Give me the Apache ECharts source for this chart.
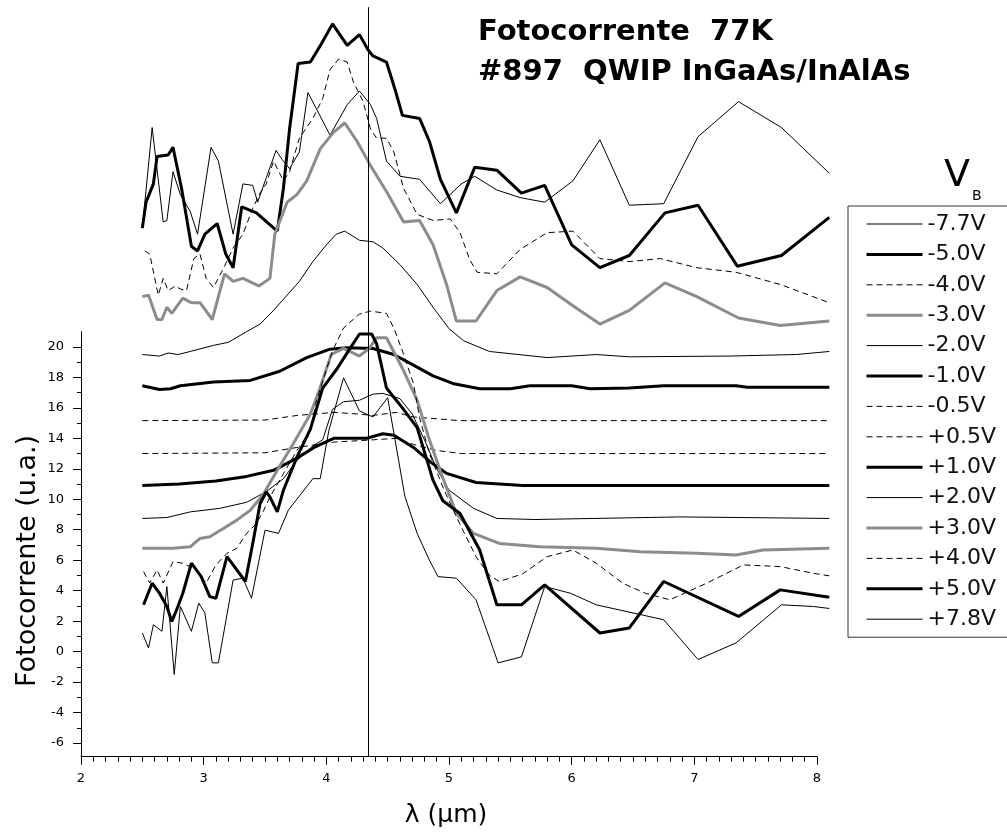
<!DOCTYPE html>
<html>
<head>
<meta charset="utf-8">
<script src="https://cdn.jsdelivr.net/npm/echarts@6/dist/echarts.min.js"></script>
<style>
  html, body { margin: 0; padding: 0; background: #fff; }
  #chart { width: 1007px; height: 834px; }
</style>
</head>
<body>
<div id="chart"></div>
<script>
// [lambda (um), photocurrent (a.u.)]
const neg77 = [[2.5,27.8],[2.58,34.4],[2.67,28.2],[2.7,28.3],[2.75,31.5],[2.81,30.0],[2.89,28.9],[2.95,27.4],[3.06,33.1],[3.12,32.2],[3.24,27.4],[3.32,30.7],[3.4,30.6],[3.44,29.5],[3.51,31.1],[3.59,32.9],[3.64,32.3],[3.7,31.7],[3.78,32.8],[3.85,36.7],[4.03,33.9],[4.17,35.9],[4.27,36.8],[4.36,35.9],[4.41,35.0],[4.49,32.2],[4.6,31.2],[4.76,31.0],[4.93,29.4],[5.1,30.7],[5.21,31.2],[5.39,30.3],[5.58,29.8],[5.78,29.5],[6.01,30.9],[6.23,33.6],[6.47,29.3],[6.75,29.4],[7.03,33.8],[7.36,36.1],[7.71,34.4],[8.1,31.4]];
const neg50 = [[2.5,27.8],[2.53,29.5],[2.59,30.7],[2.62,32.5],[2.71,32.6],[2.75,33.1],[2.82,30.4],[2.9,26.6],[2.95,26.3],[3.01,27.4],[3.11,28.1],[3.18,26.1],[3.24,25.2],[3.31,29.2],[3.43,28.8],[3.6,27.6],[3.65,30.4],[3.7,34.3],[3.77,38.6],[3.87,38.7],[3.96,39.9],[4.05,41.2],[4.17,39.8],[4.27,40.5],[4.34,39.5],[4.38,39.1],[4.49,38.7],[4.56,36.9],[4.62,35.2],[4.76,35.0],[4.84,33.5],[4.93,31.0],[5.06,28.8],[5.21,31.8],[5.39,31.6],[5.59,30.1],[5.78,30.6],[6.0,26.7],[6.23,25.2],[6.47,26.0],[6.76,28.8],[7.03,29.3],[7.35,25.3],[7.71,26.0],[8.1,28.5]];
const neg40 = [[2.52,26.3],[2.56,26.1],[2.63,23.4],[2.67,24.5],[2.71,23.7],[2.77,24.0],[2.81,23.8],[2.86,23.7],[2.92,25.8],[2.97,26.1],[3.02,24.5],[3.08,23.9],[3.17,25.3],[3.24,26.5],[3.32,27.4],[3.4,29.1],[3.46,30.1],[3.51,30.7],[3.57,32.2],[3.65,30.9],[3.7,31.5],[3.78,33.7],[3.89,35.0],[3.97,36.3],[4.03,38.2],[4.1,38.9],[4.17,38.7],[4.22,37.4],[4.3,36.1],[4.36,34.3],[4.41,33.7],[4.49,33.7],[4.55,32.8],[4.63,30.4],[4.74,28.7],[4.87,28.3],[5.01,28.4],[5.09,27.5],[5.17,25.7],[5.23,24.9],[5.39,24.8],[5.58,26.4],[5.8,27.5],[6.01,27.6],[6.23,25.8],[6.47,25.6],[6.72,25.8],[7.02,25.2],[7.34,24.9],[7.7,24.1],[8.1,22.9]];
const neg30 = [[2.5,23.3],[2.55,23.4],[2.62,21.8],[2.66,21.8],[2.7,22.6],[2.74,22.2],[2.83,23.2],[2.9,22.9],[2.97,22.9],[3.07,21.8],[3.17,24.8],[3.24,24.3],[3.32,24.5],[3.45,24.0],[3.54,24.5],[3.58,27.4],[3.68,29.5],[3.76,30.0],[3.84,30.9],[3.95,33.0],[4.06,34.1],[4.15,34.7],[4.25,33.5],[4.36,31.9],[4.49,30.2],[4.63,28.2],[4.76,28.3],[4.87,26.7],[4.98,24.1],[5.06,21.7],[5.22,21.7],[5.39,23.7],[5.58,24.6],[5.8,23.9],[6.01,22.7],[6.23,21.5],[6.47,22.4],[6.76,24.2],[7.02,23.3],[7.36,21.9],[7.7,21.4],[8.1,21.7]];
const neg20 = [[2.5,19.5],[2.64,19.4],[2.71,19.6],[2.79,19.5],[2.89,19.7],[3.08,20.1],[3.2,20.3],[3.35,21.0],[3.46,21.5],[3.57,22.4],[3.68,23.4],[3.78,24.3],[3.89,25.6],[4.0,26.7],[4.08,27.4],[4.15,27.6],[4.27,27.0],[4.38,26.9],[4.46,26.5],[4.6,25.4],[4.74,24.1],[4.87,22.6],[5.0,21.2],[5.12,20.4],[5.33,19.7],[5.8,19.3],[6.2,19.5],[6.47,19.35],[7.29,19.4],[7.83,19.5],[8.1,19.7]];
const neg10 = [[2.5,17.45],[2.64,17.2],[2.73,17.25],[2.81,17.45],[3.08,17.7],[3.38,17.8],[3.62,18.4],[3.84,19.3],[4.03,19.85],[4.17,19.95],[4.38,19.9],[4.55,19.5],[4.71,18.8],[4.87,18.1],[5.03,17.6],[5.25,17.25],[5.5,17.25],[5.66,17.45],[6.0,17.45],[6.15,17.25],[6.47,17.3],[6.75,17.45],[7.34,17.45],[7.43,17.35],[8.1,17.35]];
const neg05 = [[2.5,15.16],[3.5,15.2],[3.76,15.5],[4.06,15.7],[4.25,15.6],[4.38,15.5],[4.57,15.7],[4.71,15.4],[5.09,15.16],[8.1,15.16]];
const pos05 = [[2.5,13.0],[3.5,13.05],[3.76,13.4],[4.06,13.75],[4.38,13.9],[4.57,14.0],[4.71,13.6],[4.9,13.2],[5.1,13.0],[8.1,13.0]];
const pos10 = [[2.5,10.9],[2.8,11.0],[3.1,11.2],[3.35,11.5],[3.57,11.9],[3.76,12.7],[3.9,13.4],[4.06,14.0],[4.33,14.0],[4.46,14.3],[4.55,14.2],[4.71,13.4],[4.84,12.5],[4.98,11.7],[5.22,11.1],[5.41,11.0],[5.6,10.9],[6.5,10.9],[7.5,10.9],[8.1,10.9]];
const pos20 = [[2.5,8.74],[2.7,8.8],[2.89,9.17],[3.13,9.4],[3.35,9.8],[3.51,10.5],[3.65,11.35],[3.76,12.55],[3.89,13.5],[3.97,13.9],[4.05,15.9],[4.14,16.4],[4.27,16.5],[4.38,16.9],[4.46,16.95],[4.6,16.6],[4.7,15.6],[4.8,13.9],[4.9,12.0],[5.0,10.6],[5.2,9.4],[5.39,8.74],[5.7,8.67],[6.88,8.84],[8.1,8.74]];
const pos30 = [[2.5,6.78],[2.75,6.78],[2.89,6.88],[2.97,7.43],[3.05,7.54],[3.16,8.08],[3.27,8.63],[3.38,9.28],[3.49,10.37],[3.6,11.9],[3.73,13.64],[3.87,15.6],[3.95,17.34],[4.04,19.5],[4.14,19.9],[4.27,19.4],[4.35,19.9],[4.41,20.6],[4.49,20.6],[4.62,18.6],[4.74,16.5],[4.84,13.9],[4.95,11.4],[5.06,9.07],[5.2,7.76],[5.41,7.1],[5.74,6.88],[6.2,6.78],[6.56,6.56],[7.02,6.45],[7.34,6.34],[7.56,6.67],[8.1,6.78]];
const pos40 = [[2.51,5.25],[2.56,4.5],[2.62,5.36],[2.67,4.5],[2.75,5.9],[2.83,5.8],[2.94,5.36],[3.02,4.5],[3.1,5.69],[3.19,6.45],[3.27,6.78],[3.35,7.76],[3.43,8.41],[3.49,9.28],[3.54,10.15],[3.65,11.68],[3.76,13.2],[3.87,14.5],[3.92,16.47],[4.05,19.74],[4.14,21.24],[4.27,22.16],[4.36,22.35],[4.49,22.2],[4.55,21.24],[4.62,19.74],[4.71,17.6],[4.76,15.36],[4.84,13.0],[4.95,10.8],[5.06,8.84],[5.22,6.23],[5.33,5.0],[5.41,4.6],[5.6,5.1],[5.8,6.23],[6.01,6.67],[6.2,5.8],[6.42,4.47],[6.6,3.83],[6.8,3.4],[7.1,4.49],[7.4,5.69],[7.7,5.58],[7.97,5.14],[8.1,4.97]];
const pos50 = [[2.51,3.07],[2.58,4.49],[2.64,3.83],[2.7,2.96],[2.74,1.98],[2.78,2.75],[2.83,3.83],[2.9,5.8],[2.98,4.92],[3.05,3.61],[3.1,3.5],[3.19,6.23],[3.27,5.36],[3.34,4.6],[3.4,7.1],[3.46,9.72],[3.51,10.48],[3.54,10.15],[3.6,9.17],[3.65,10.59],[3.76,12.76],[3.87,14.6],[3.97,17.3],[4.09,18.6],[4.18,19.74],[4.27,20.85],[4.37,20.85],[4.41,20.2],[4.49,17.3],[4.62,16.0],[4.74,14.7],[4.87,11.24],[4.95,9.9],[5.09,9.07],[5.25,6.67],[5.39,3.07],[5.59,3.07],[5.78,4.38],[6.23,1.22],[6.47,1.55],[6.75,4.6],[7.36,2.31],[7.7,4.05],[8.1,3.57]];
const pos78 = [[2.5,1.22],[2.55,0.24],[2.59,1.76],[2.66,1.33],[2.7,4.27],[2.76,-1.5],[2.81,2.96],[2.9,1.33],[2.96,3.18],[3.01,2.53],[3.07,-0.74],[3.12,-0.74],[3.24,4.7],[3.32,4.82],[3.39,3.5],[3.5,7.97],[3.61,7.76],[3.69,9.28],[3.89,11.35],[3.95,11.35],[4.02,14.5],[4.14,17.97],[4.27,15.8],[4.38,15.4],[4.5,16.67],[4.64,10.2],[4.74,7.76],[4.84,6.0],[4.91,4.92],[5.06,4.82],[5.22,3.4],[5.4,-0.74],[5.59,-0.35],[5.78,4.27],[5.99,3.83],[6.2,3.07],[6.75,2.09],[7.03,-0.52],[7.34,0.57],[7.71,3.07],[7.97,2.96],[8.1,2.83]];

const biasNames = ['-7.7V','-5.0V','-4.0V','-3.0V','-2.0V','-1.0V','-0.5V','+0.5V','+1.0V','+2.0V','+3.0V','+4.0V','+5.0V','+7.8V'];
const curves = [neg77, neg50, neg40, neg30, neg20, neg10, neg05, pos05, pos10, pos20, pos30, pos40, pos50, pos78];
const lineKinds = ['thin','thick','dash','gray','thin','thick','dash','dash','thick','thin','gray','dash','thick','thin'];

const yTicks = [-6,-4,-2,0,2,4,6,8,10,12,14,16,18,20];
const yMinorTicks = [-5,-3,-1,1,3,5,7,9,11,13,15,17,19];
const peakLambda = 4.34;

const FONT = 'DejaVu Sans';

function styleFor(kind) {
    if (kind === 'thick') return { color: '#000', width: 3, type: 'solid' };
    if (kind === 'gray') return { color: '#8c8c8c', width: 3, type: 'solid' };
    if (kind === 'dash') return { color: '#000', width: 1, type: [6, 4] };
    return { color: '#000', width: 1, type: 'solid' };
}

const series = curves.map((d, i) => {
    const ls = styleFor(lineKinds[i]);
    const s = {
        name: biasNames[i],
        type: 'line',
        xAxisIndex: 0,
        yAxisIndex: 0,
        data: d,
        symbol: 'none',
        clip: false,
        color: ls.color,
        lineStyle: ls
    };
    if (i === 0) {
        // linha vertical no pico
        s.markLine = {
            silent: true,
            symbol: ['none', 'none'],
            label: { show: false },
            lineStyle: { color: '#000', width: 1, type: 'solid' },
            data: [{ xAxis: peakLambda }]
        };
    }
    return s;
});

// itens da legenda com o mesmo traço da curva
const legendItems = biasNames.map((n, i) => {
    const ls = styleFor(lineKinds[i]);
    return { name: n, lineStyle: { color: ls.color, width: ls.width, type: ls.type }, itemStyle: { opacity: 0 } };
});

const chart = echarts.init(document.getElementById('chart'));
chart.setOption({
    animation: false,
    backgroundColor: '#fff',
    title: {
        text: 'Fotocorrente  77K\n#897  QWIP InGaAs/InAlAs',
        left: 478,
        top: 12,
        padding: 0,
        textStyle: { fontFamily: FONT, fontWeight: 'bold', fontSize: 29, lineHeight: 40, color: '#000' }
    },
    grid: [
        { left: 81, right: 177.7, top: 7.2, bottom: 77.3 },
        { left: 81, right: 190, top: 331.7, bottom: 77.3 }
    ],
    xAxis: [
        { type: 'value', gridIndex: 0, min: 2, max: 8.1, show: false },
        {
            type: 'value', gridIndex: 1, min: 2, max: 8, interval: 1,
            position: 'bottom',
            axisLine: { onZero: false, lineStyle: { color: '#000', width: 1 } },
            axisTick: { length: 8, lineStyle: { color: '#000' } },
            minorTick: { show: true, splitNumber: 10, length: 5, lineStyle: { color: '#000' } },
            axisLabel: { color: '#000', fontFamily: FONT, fontSize: 13, margin: 15 },
            splitLine: { show: false }
        }
    ],
    yAxis: [
        { type: 'value', gridIndex: 0, min: -6.9, max: 42.3, show: false },
        {
            type: 'value', gridIndex: 1, min: -6.9, max: 21, position: 'left',
            axisLine: { show: true, onZero: false, lineStyle: { color: '#000', width: 1 } },
            axisTick: { show: true, length: 8, customValues: yTicks, lineStyle: { color: '#000' } },
            axisLabel: { color: '#000', fontFamily: FONT, fontSize: 13, margin: 17, customValues: yTicks },
            splitLine: { show: false }
        },
        {
            type: 'value', gridIndex: 1, min: -6.9, max: 21, position: 'left', offset: 0,
            axisLine: { show: false, onZero: false },
            axisTick: { show: true, length: 4, customValues: yMinorTicks, lineStyle: { color: '#000' } },
            axisLabel: { show: false },
            splitLine: { show: false }
        }
    ],
    legend: {
        orient: 'vertical',
        left: 848,
        top: 206,
        padding: [7, 12, 7, 17],
        itemWidth: 56,
        itemHeight: 14,
        itemGap: 8.4,
        borderColor: '#333',
        borderWidth: 1,
        selectedMode: false,
        textStyle: { fontFamily: FONT, fontSize: 22, lineHeight: 22, color: '#111' },
        data: legendItems
    },
    graphic: [
        {
            type: 'text', x: 28, y: 561, rotation: Math.PI / 2,
            style: { text: 'Fotocorrente (u.a.)', font: '27px "DejaVu Sans"', fill: '#000', textAlign: 'center', textVerticalAlign: 'middle' }
        },
        {
            type: 'text', x: 446, y: 815,
            style: { text: 'λ (μm)', font: '25px "DejaVu Sans"', fill: '#000', textAlign: 'center', textVerticalAlign: 'middle' }
        },
        {
            type: 'text', x: 944, y: 176,
            style: { text: 'V', font: '38px "DejaVu Sans"', fill: '#000', textAlign: 'left', textVerticalAlign: 'middle' }
        },
        {
            type: 'text', x: 972, y: 196,
            style: { text: 'B', font: '14px "DejaVu Sans"', fill: '#000', textAlign: 'left', textVerticalAlign: 'middle' }
        }
    ],
    series: series
});
</script>
</body>
</html>
